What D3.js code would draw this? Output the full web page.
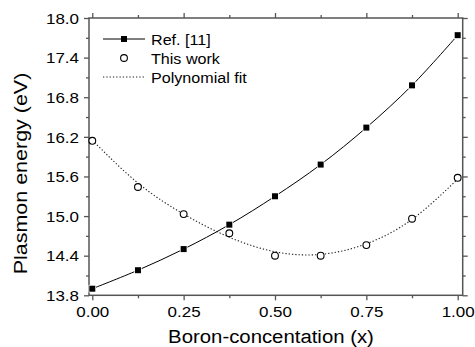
<!DOCTYPE html>
<html>
<head>
<meta charset="utf-8">
<script src="https://cdn.jsdelivr.net/npm/d3@7"></script>
<style>
  body { margin: 0; background: #fff; }
  text { font-family: "Liberation Sans", Arial, sans-serif; fill: #000; }
</style>
</head>
<body>
<div id="chart"></div>
<script>
// data
var boronX = [0, 0.125, 0.25, 0.375, 0.5, 0.625, 0.75, 0.875, 1.0];
var refValues = [13.90, 14.18, 14.50, 14.87, 15.30, 15.78, 16.34, 16.98, 17.74];
var workValues = [16.14, 15.44, 15.03, 14.74, 14.40, 14.40, 14.56, 14.96, 15.58];
var fitValues = [16.15, 15.50, 15.03, 14.68, 14.46, 14.42, 14.58, 14.95, 15.56];

var xTicks = [0, 0.25, 0.5, 0.75, 1.0];
var xMinor = [0.125, 0.375, 0.625, 0.875];
var yTicks = [13.8, 14.4, 15.0, 15.6, 16.2, 16.8, 17.4, 18.0];
var yMinor = [14.1, 14.7, 15.3, 15.9, 16.5, 17.1, 17.7];

var legendLabels = ["Ref. [11]", "This work", "Polynomial fit"];

var svgWidth = 475;
var svgHeight = 347;

var margin = { top: 18, right: 12.3, bottom: 51.7, left: 89 };
var width = svgWidth - margin.left - margin.right;
var height = svgHeight - margin.top - margin.bottom;

var svg = d3.select("#chart")
  .append("svg")
  .attr("width", svgWidth)
  .attr("height", svgHeight);

var chartG = svg.append("g")
  .attr("transform", `translate(${margin.left}, ${margin.top})`);

var xScale = d3.scaleLinear().domain([-0.009, 1.0137]).range([0, width]);
var yScale = d3.scaleLinear().domain([13.8, 18.0]).range([height, 0]);

// stretch text a bit wider, the original glyphs are wide
function stretch(sel, k) {
  sel.each(function() {
    var len = this.getComputedTextLength();
    d3.select(this)
      .attr("textLength", len * k)
      .attr("lengthAdjust", "spacingAndGlyphs");
  });
}

var axisColor = "#555";

// ticks, all four sides, outward
function tickAxis(axisFn, scale, major, minor, transform, labels) {
  var g = chartG.append("g").attr("transform", transform);
  g.call(axisFn(scale).tickValues(major).tickSize(5).tickFormat(labels ? null : ""));
  var gm = chartG.append("g").attr("transform", transform);
  gm.call(axisFn(scale).tickValues(minor).tickSize(3).tickFormat(""));
  [g, gm].forEach(function(a) {
    a.select(".domain").remove();
    a.selectAll(".tick line").attr("stroke", axisColor).attr("stroke-width", 1.3);
  });
  return g;
}

var bottomG = tickAxis(d3.axisBottom, xScale, xTicks, xMinor, `translate(0, ${height})`, true);
bottomG.selectAll(".tick text")
  .text(d => d3.format(".2f")(d))
  .attr("y", 0)
  .attr("dy", 0)
  .attr("transform", "translate(0, 22)")
  .style("font-size", "14.5px")
  .style("font-family", "Liberation Sans, Arial, sans-serif")
  .attr("fill", "#000")
  .call(stretch, 1.17);

var leftG = tickAxis(d3.axisLeft, yScale, yTicks, yMinor, "translate(0,0)", true);
leftG.selectAll(".tick text")
  .text(d => d3.format(".1f")(d))
  .attr("x", -10)
  .attr("dy", "0.36em")
  .style("font-size", "14.5px")
  .style("font-family", "Liberation Sans, Arial, sans-serif")
  .attr("fill", "#000")
  .call(stretch, 1.17);

tickAxis(d3.axisTop, xScale, xTicks, xMinor, "translate(0,0)", false);
tickAxis(d3.axisRight, yScale, yTicks, yMinor, `translate(${width}, 0)`, false);

// frame
chartG.append("rect")
  .attr("x", 0)
  .attr("y", 0)
  .attr("width", width)
  .attr("height", height)
  .attr("fill", "none")
  .attr("stroke", axisColor)
  .attr("stroke-width", 1.5);

// fit curve (dotted)
var fitLine = d3.line()
  .x((d, i) => xScale(boronX[i]))
  .y(d => yScale(d))
  .curve(d3.curveNatural);

chartG.append("path")
  .datum(fitValues)
  .attr("d", fitLine)
  .attr("fill", "none")
  .attr("stroke", "#222")
  .attr("stroke-width", 1.1)
  .attr("stroke-dasharray", "1.3,2");

// ref line
var refLine = d3.line()
  .x((d, i) => xScale(boronX[i]))
  .y(d => yScale(d))
  .curve(d3.curveCatmullRom);

chartG.append("path")
  .datum(refValues)
  .attr("d", refLine)
  .attr("fill", "none")
  .attr("stroke", "#000")
  .attr("stroke-width", 1);

// this work circles
chartG.selectAll(".work")
  .data(workValues)
  .enter()
  .append("circle")
  .attr("class", "work")
  .attr("cx", (d, i) => xScale(boronX[i]))
  .attr("cy", d => yScale(d))
  .attr("r", 3.4)
  .attr("fill", "#fff")
  .attr("stroke", "#000")
  .attr("stroke-width", 1.1);

// ref squares
var sq = 6;
chartG.selectAll(".ref")
  .data(refValues)
  .enter()
  .append("rect")
  .attr("class", "ref")
  .attr("x", (d, i) => xScale(boronX[i]) - sq / 2)
  .attr("y", d => yScale(d) - sq / 2)
  .attr("width", sq)
  .attr("height", sq)
  .attr("fill", "#000")
  .attr("stroke", "#fff")
  .attr("stroke-width", 1.5)
  .attr("paint-order", "stroke");

// legend
var legendG = svg.append("g");
var rowY = [39, 58, 77];

legendG.append("line")
  .attr("x1", 103).attr("x2", 145)
  .attr("y1", rowY[0]).attr("y2", rowY[0])
  .attr("stroke", "#000").attr("stroke-width", 1);
legendG.append("rect")
  .attr("x", 124 - sq / 2).attr("y", rowY[0] - sq / 2)
  .attr("width", sq).attr("height", sq)
  .attr("fill", "#000");

legendG.append("circle")
  .attr("cx", 124).attr("cy", rowY[1]).attr("r", 3.4)
  .attr("fill", "#fff").attr("stroke", "#000").attr("stroke-width", 1.1);

legendG.append("line")
  .attr("x1", 103).attr("x2", 145)
  .attr("y1", rowY[2]).attr("y2", rowY[2])
  .attr("stroke", "#222").attr("stroke-width", 1.1)
  .attr("stroke-dasharray", "1.3,2");

legendG.selectAll(".lab")
  .data(legendLabels)
  .enter()
  .append("text")
  .attr("class", "lab")
  .attr("x", 151)
  .attr("y", (d, i) => rowY[i] + 5.5)
  .style("font-size", "14px")
  .text(d => d)
  .call(stretch, 1.15);

// axis titles
svg.append("text")
  .attr("x", 271)
  .attr("y", 343)
  .attr("text-anchor", "middle")
  .style("font-size", "18px")
  .text("Boron-concentation (x)")
  .call(stretch, 1.13);

svg.append("text")
  .attr("transform", "translate(27, 173.5) rotate(-90)")
  .attr("text-anchor", "middle")
  .style("font-size", "19px")
  .text("Plasmon energy (eV)")
  .call(stretch, 1.13);
</script>
</body>
</html>
